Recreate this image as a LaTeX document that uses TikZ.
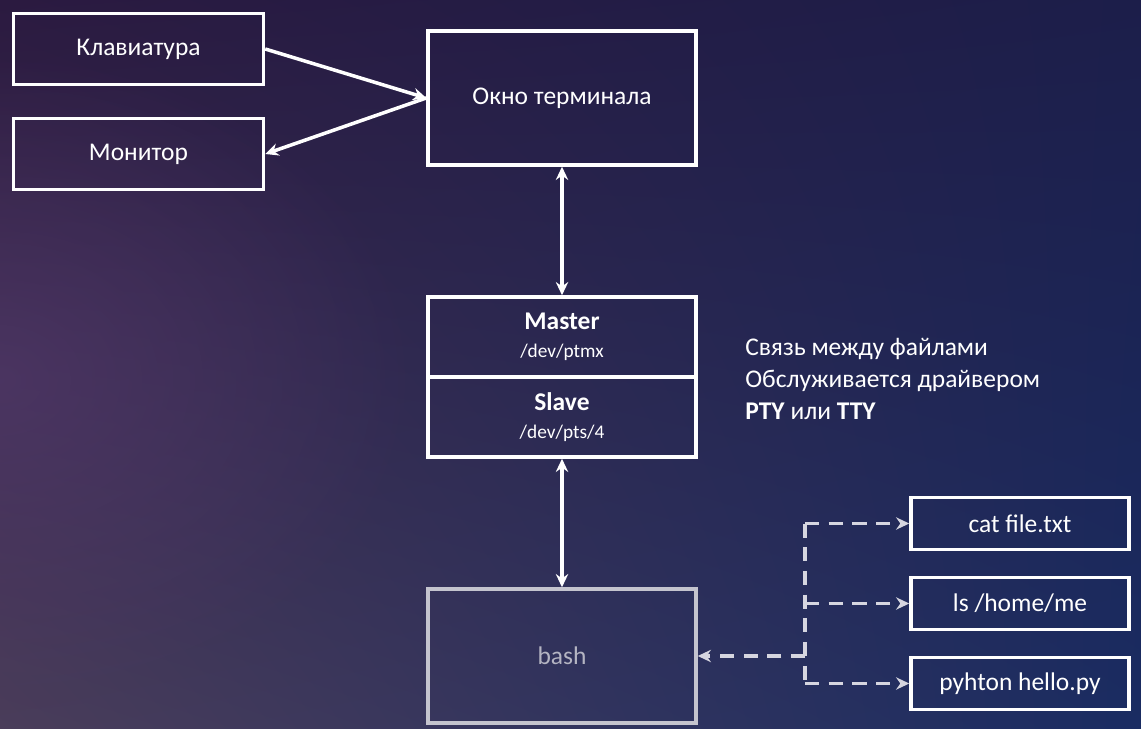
\documentclass[tikz,border=0pt]{standalone}
\usepackage{fontspec}
\setmainfont{Carlito}
\usepackage{xcolor}
\usetikzlibrary{arrows.meta,shadings,fadings}

\definecolor{bgul}{HTML}{2B1A40}
\definecolor{bgur}{HTML}{1C1E4A}
\definecolor{bgll}{HTML}{4A3D5A}
\definecolor{bglr}{HTML}{1A2C62}
\definecolor{bgglow}{HTML}{553A6E}
\definecolor{dimline}{HTML}{C4C4CE}
\definecolor{dimtext}{HTML}{B4B4C2}
\definecolor{dashline}{HTML}{D6D6E0}
\tikzfading[name=glowfade,inner color=transparent!0,outer color=transparent!100]

\begin{document}
\begin{tikzpicture}[x=0.02cm,y=-0.02cm,>={Stealth[length=7.5pt,width=7pt]}]
\tikzstyle{blk}=[draw=white,line width=2pt,text=white,inner sep=0pt,font=\fontsize{14.5}{17}\selectfont,minimum width=5.36cm,minimum height=2.68cm]
\tikzstyle{dev}=[blk,align=center,minimum height=1.6cm,font=\fontsize{14.5}{14}\selectfont]
\tikzstyle{cmd}=[blk,minimum width=4.36cm,minimum height=1.04cm]
\tikzstyle{conn}=[->,draw=white,line width=2pt]
\tikzstyle{dconn}=[draw=dashline,line width=2.2pt,dash pattern=on 8pt off 5.5pt]
\newcommand{\devpath}[1]{{\fontsize{11}{12}\selectfont #1}}
% background
\useasboundingbox (0,0) rectangle (1141,729);
\shade[upper left=bgul,upper right=bgur,lower left=bgll,lower right=bglr] (0,0) rectangle (1141,729);
\begin{scope}
\clip (0,0) rectangle (1141,729);
\fill[bgglow,path fading=glowfade,opacity=0.6] (0,380) ellipse (420 and 330);
\end{scope}
% input / output devices
\node[blk,minimum width=5cm,minimum height=1.42cm] (kbd) at (138.5,49) {Клавиатура};
\node[blk,minimum width=5cm,minimum height=1.42cm] (mon) at (138.5,154) {Монитор};
\node[blk] (term) at (562,98) {Окно терминала};
% pty pair
\node[dev] (master) at (562,337) {\textbf{Master}\\[2pt]\devpath{/dev/ptmx}};
\node[dev] (slave) at (562,417) {\textbf{Slave}\\[2pt]\devpath{/dev/pts/4}};
\node[blk,draw=dimline,text=dimtext] (bash) at (562,656) {bash};
% commands
\node[cmd] (cat) at (1020,523.5) {cat file.txt};
\node[cmd] (ls) at (1020,603.5) {ls /home/me};
\node[cmd] (py) at (1020,683.5) {pyhton hello.py};
\node[anchor=west,align=left,text=white,inner sep=0pt,font=\fontsize{14.5}{17}\selectfont] (note) at (745,379)
  {Связь между файлами\\[1pt]Обслуживается драйвером\\[1pt]\textbf{PTY} или \textbf{TTY}};
\coordinate (fork) at (805,656);
\draw[conn] (kbd.east) -- (term.west);
\draw[conn] (term.west) -- (mon.east);
\draw[conn,<->] (term.south) -- (master.north);
\draw[conn,<->] (slave.south) -- (bash.north);
\draw[dconn,->] (fork) -- (bash.east);
\draw[dconn] (fork |- cat) -- (fork |- py);
\draw[dconn,->] (fork |- cat) -- (cat.west);
\draw[dconn,->] (fork |- ls) -- (ls.west);
\draw[dconn,->] (fork |- py) -- (py.west);
\end{tikzpicture}
\end{document}
